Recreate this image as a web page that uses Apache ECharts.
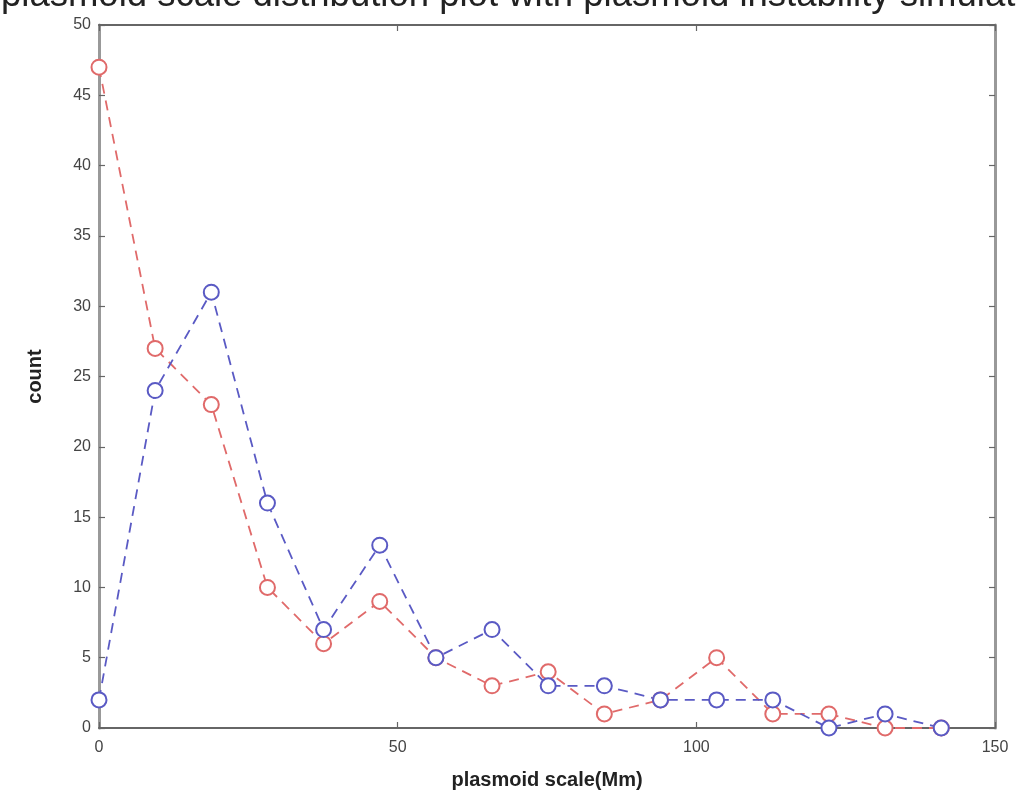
<!DOCTYPE html>
<html>
<head>
<meta charset="utf-8">
<script src="https://cdn.jsdelivr.net/npm/echarts@6/dist/echarts.min.js"></script>
<style>html,body{margin:0;padding:0;background:#fff}#c{width:1017px;height:803px}</style>
</head>
<body>
<div id="c"></div>
<script>
const titleText = 'plasmoid scale distribution plot with plasmoid instability simulation';
const xLabel = 'plasmoid scale(Mm)';
const yLabel = 'count';
const binCenters = [0, 9.4, 18.8, 28.2, 37.6, 47, 56.4, 65.8, 75.2, 84.6, 94, 103.4, 112.8, 122.2, 131.6, 141];
const redCounts  = [47, 27, 23, 10, 6, 9, 5, 3, 4, 1, 2, 5, 1, 1, 0, 0];
const blueCounts = [2, 24, 31, 16, 7, 13, 5, 7, 3, 3, 2, 2, 2, 0, 1, 0];
const xTicks = [0, 50, 100, 150];
const yMax = 50;

const chart = echarts.init(document.getElementById('c'));
const axisCol = '#666';
const mk = (arr) => binCenters.map((x, i) => [x, arr[i]]);
const serie = (name, arr, col) => ({
  name, type: 'line', data: mk(arr), xAxisIndex: 0, yAxisIndex: 0,
  symbol: 'emptyCircle', symbolSize: 15,
  lineStyle: { color: col, width: 1.8, type: [10, 7] },
  itemStyle: { color: col, borderColor: col, borderWidth: 1.5 },
  animation: false
});
const tick = { show: true, inside: true, length: 6, lineStyle: { color: axisCol, width: 1.2 } };
chart.setOption({
  backgroundColor: '#fff',
  title: {
    text: titleText, left: -4, top: -28,
    textStyle: { fontFamily: 'Liberation Sans', fontSize: 36.5, fontWeight: 'normal', color: '#222' }
  },
  grid: { left: 99, right: 22, top: 25, bottom: 75 },
  xAxis: [{
    type: 'value', min: xTicks[0], max: xTicks[xTicks.length - 1], interval: 50,
    name: xLabel, nameLocation: 'middle', nameGap: 42,
    nameTextStyle: { fontFamily: 'Liberation Sans', fontSize: 20, fontWeight: 'bold', color: '#222' },
    axisLine: { show: true, onZero: false, lineStyle: { color: axisCol, width: 2 } },
    axisTick: tick,
    axisLabel: { fontFamily: 'Liberation Sans', fontSize: 16, color: '#444', margin: 12 },
    splitLine: { show: false }
  }, {
    type: 'value', position: 'top', min: 0, max: 150, interval: 50,
    axisLine: { show: true, onZero: false, lineStyle: { color: axisCol, width: 2 } },
    axisTick: tick,
    axisLabel: { show: false }, splitLine: { show: false }
  }],
  yAxis: [{
    type: 'value', min: 0, max: yMax, interval: 5,
    name: yLabel, nameLocation: 'middle', nameGap: 54,
    nameTextStyle: { fontFamily: 'Liberation Sans', fontSize: 20, fontWeight: 'bold', color: '#222' },
    axisLine: { show: true, onZero: false, lineStyle: { color: '#999', width: 3 } },
    axisTick: tick,
    axisLabel: { fontFamily: 'Liberation Sans', fontSize: 16, color: '#444', margin: 8 },
    splitLine: { show: false }
  }, {
    type: 'value', position: 'right', min: 0, max: yMax, interval: 5,
    axisLine: { show: true, onZero: false, lineStyle: { color: '#999', width: 3 } },
    axisTick: tick,
    axisLabel: { show: false }, splitLine: { show: false }
  }],
  series: [
    serie('red', redCounts, '#e06a6a'),
    serie('blue', blueCounts, '#5a5ac4')
  ]
});
</script>
</body>
</html>
